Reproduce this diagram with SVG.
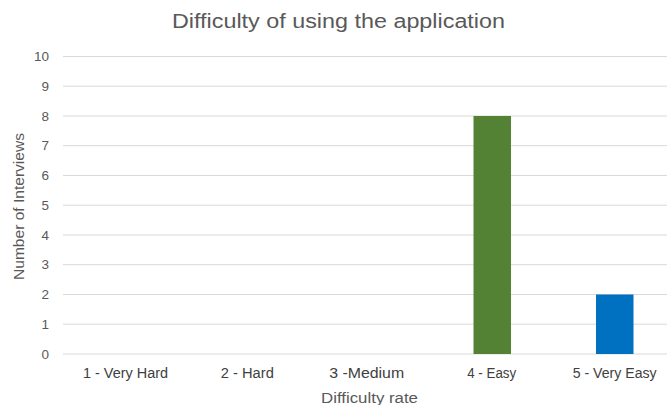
<svg xmlns="http://www.w3.org/2000/svg" width="667" height="405" viewBox="0 0 667 405">
  <style>
    .grid { stroke: #d9d9d9; stroke-width: 1; }
    .tick { font-family: "Liberation Sans", Arial, sans-serif; font-size: 13.5px; fill: #595959; }
    .ylab { text-anchor: end; }
    .xlab { text-anchor: middle; fill: #404040; font-size: 14px; }
    .axis-title { font-family: "Liberation Sans", Arial, sans-serif; font-size: 14px; fill: #595959; text-anchor: middle; }
    .title { font-family: "Liberation Sans", Arial, sans-serif; font-size: 20px; fill: #595959; text-anchor: middle; }
  </style>
  <rect width="667" height="405" fill="#ffffff"/>

  <text class="title" x="338.5" y="28" textLength="333" lengthAdjust="spacingAndGlyphs">Difficulty of using the application</text>

  <!-- horizontal gridlines, value 0..10 -->
  <g id="gridlines">
    <line class="grid" x1="63" y1="56.5" x2="667" y2="56.5"/>
    <line class="grid" x1="63" y1="86.2" x2="667" y2="86.2"/>
    <line class="grid" x1="63" y1="116" x2="667" y2="116"/>
    <line class="grid" x1="63" y1="145.7" x2="667" y2="145.7"/>
    <line class="grid" x1="63" y1="175.5" x2="667" y2="175.5"/>
    <line class="grid" x1="63" y1="205.2" x2="667" y2="205.2"/>
    <line class="grid" x1="63" y1="235" x2="667" y2="235"/>
    <line class="grid" x1="63" y1="264.7" x2="667" y2="264.7"/>
    <line class="grid" x1="63" y1="294.5" x2="667" y2="294.5"/>
    <line class="grid" x1="63" y1="324.2" x2="667" y2="324.2"/>
    <line class="grid" x1="63" y1="354" x2="667" y2="354"/>
  </g>

  <g id="y-axis">
    <text class="tick ylab" x="49" y="61">10</text>
    <text class="tick ylab" x="49" y="90.7">9</text>
    <text class="tick ylab" x="49" y="120.5">8</text>
    <text class="tick ylab" x="49" y="150.2">7</text>
    <text class="tick ylab" x="49" y="180">6</text>
    <text class="tick ylab" x="49" y="209.7">5</text>
    <text class="tick ylab" x="49" y="239.5">4</text>
    <text class="tick ylab" x="49" y="269.2">3</text>
    <text class="tick ylab" x="49" y="299">2</text>
    <text class="tick ylab" x="49" y="328.7">1</text>
    <text class="tick ylab" x="49" y="358.5">0</text>
    <text class="axis-title" transform="translate(24,206.5) rotate(-90)" textLength="147" lengthAdjust="spacingAndGlyphs">Number of Interviews</text>
  </g>

  <g id="bars">
    <rect id="bar-easy" x="473.5" y="116" width="37.5" height="238" fill="#548235"/>
    <rect id="bar-very-easy" x="596" y="294.5" width="37.5" height="59.5" fill="#0070c0"/>
  </g>

  <g id="x-axis">
    <text class="tick xlab" x="125.5" y="377.5" textLength="85" lengthAdjust="spacingAndGlyphs">1 - Very Hard</text>
    <text class="tick xlab" x="247.3" y="377.5" textLength="53" lengthAdjust="spacingAndGlyphs">2 - Hard</text>
    <text class="tick xlab" x="366.7" y="377.5" textLength="75" lengthAdjust="spacingAndGlyphs">3 -Medium</text>
    <text class="tick xlab" x="491.7" y="377.5" textLength="49" lengthAdjust="spacingAndGlyphs">4 - Easy</text>
    <text class="tick xlab" x="614.7" y="377.5" textLength="84" lengthAdjust="spacingAndGlyphs">5 - Very Easy</text>
    <text class="axis-title" x="369.5" y="402.5" textLength="97" lengthAdjust="spacingAndGlyphs">Difficulty rate</text>
  </g>
</svg>
